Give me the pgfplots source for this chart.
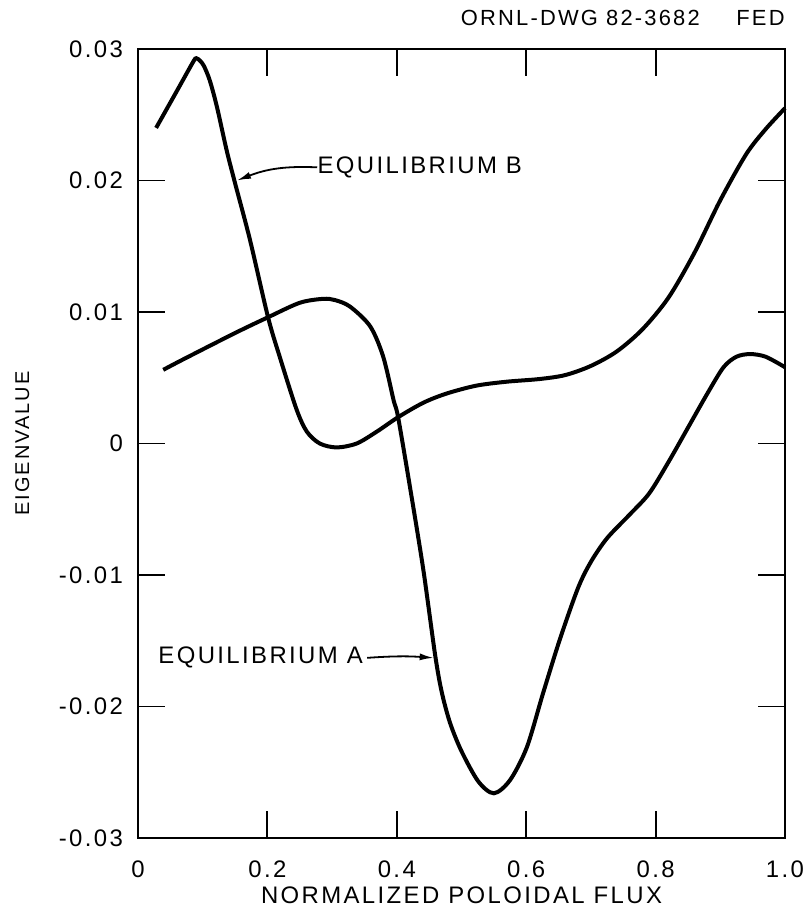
\documentclass[border=0pt]{standalone}
\usepackage{fontspec}
\setmainfont{Liberation Sans}[LetterSpace=10]
\usepackage{pgfplots}
\pgfplotsset{compat=1.18}
\usetikzlibrary{arrows.meta}

% eigenvalue profiles
\pgfplotstableread{
x y
0.028 0.0240
0.060 0.0268
0.085 0.0290
0.090 0.0293
0.096 0.0291
0.102 0.0287
0.111 0.0276
0.122 0.0256
0.137 0.0223
0.150 0.0198
0.173 0.0155
0.201 0.0096
0.219 0.0066
0.245 0.0026
0.261 0.0009
0.281 0.0000
0.307 -0.0003
0.338 0.0000
0.369 0.0009
0.402 0.0020
0.441 0.0031
0.477 0.0038
0.523 0.0044
0.570 0.0047
0.620 0.0049
0.660 0.0052
0.700 0.0059
0.740 0.0070
0.780 0.0087
0.820 0.0111
0.860 0.0145
0.900 0.0185
0.940 0.0220
0.970 0.0239
1.000 0.0255
}\eqB

\pgfplotstableread{
x y
0.039 0.0056
0.070 0.0064
0.150 0.0084
0.201 0.0096
0.250 0.0107
0.286 0.0110
0.305 0.0109
0.328 0.0104
0.359 0.0089
0.379 0.0066
0.395 0.0033
0.402 0.0020
0.421 -0.0035
0.441 -0.0096
0.459 -0.0160
0.469 -0.0188
0.482 -0.0212
0.500 -0.0234
0.526 -0.0257
0.550 -0.0266
0.575 -0.0256
0.601 -0.0231
0.626 -0.0190
0.652 -0.0149
0.680 -0.0110
0.700 -0.0090
0.725 -0.0072
0.760 -0.0054
0.790 -0.0038
0.820 -0.0014
0.850 0.0012
0.880 0.0038
0.905 0.0058
0.925 0.0066
0.946 0.0068
0.970 0.0066
1.000 0.0058
}\eqA

\begin{document}
\begin{tikzpicture}
\path[use as bounding box] (-69bp,-38.5bp) rectangle (334bp,419bp);
\begin{axis}[
    at={(0,0)}, anchor=south west,
    scale only axis,
    width=323.5bp, height=394.5bp,
    xmin=0, xmax=1, ymin=-0.03, ymax=0.03,
    xtick={0,0.2,0.4,0.6,0.8,1.0},
    xticklabels={0,0.2,0.4,0.6,0.8,1.0},
    ytick={-0.03,-0.02,-0.01,0,0.01,0.02,0.03},
    yticklabels={-0.03,-0.02,-0.01,0,0.01,0.02,0.03},
    scaled y ticks=false,
    tick align=inside, tick pos=both,
    major tick length=13.5bp,
    every tick/.style={black, line width=0.9bp},
    axis line style={line width=1.4bp},
    ticklabel style={font=\fontsize{12}{14}\selectfont},
    xticklabel style={yshift=-8bp},
    yticklabel style={xshift=-4bp},
    xlabel={NORMALIZED POLOIDAL FLUX},
    ylabel={EIGENVALUE},
    xlabel style={at={(axis description cs:0.5,0)}, anchor=center, yshift=-28.5bp,
        font=\fontsize{12}{14}\selectfont},
    ylabel style={at={(axis description cs:-0.179,0.5)}, anchor=center,
        font=\fontsize{10}{12}\selectfont},
    clip=false,
]
\addplot[black, line width=2bp, smooth, tension=0.5] table {\eqB};
\addplot[black, line width=2bp, smooth, tension=0.5] table {\eqA};

\node[anchor=west, inner sep=0pt, font=\fontsize{12}{14}\selectfont] (lb) at (axis cs:0.277,0.0210) {EQUILIBRIUM B};
\draw[line width=0.9bp, -{Latex[length=7bp,width=3.5bp]}] (lb.west) to[bend right=12] (axis cs:0.153,0.0200);

\node[anchor=west, inner sep=0pt, font=\fontsize{12}{14}\selectfont] (la) at (axis cs:0.031,-0.0163) {EQUILIBRIUM A};
\draw[line width=0.9bp, -{Latex[length=7bp,width=3.5bp]}] ([xshift=2bp]la.east) to[bend left=4] (axis cs:0.457,-0.0163);

\node[anchor=base east, inner sep=0pt, font=\fontsize{11}{13}\selectfont] at ([yshift=11.5bp]rel axis cs:0.869,1) {ORNL-DWG 82-3682};
\node[anchor=base east, inner sep=0pt, font=\fontsize{11}{13}\selectfont] at ([yshift=11.5bp]rel axis cs:1.0,1) {FED};
\end{axis}
\end{tikzpicture}
\end{document}
